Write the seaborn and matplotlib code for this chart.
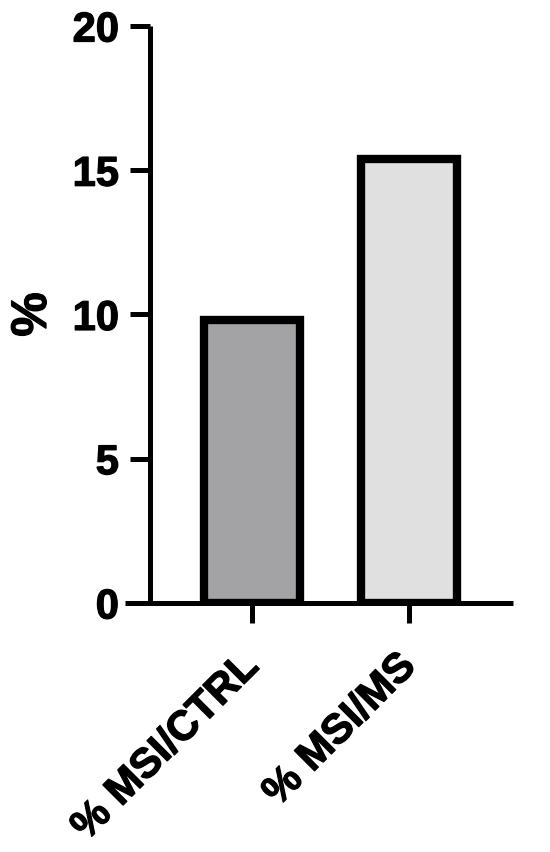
import matplotlib
matplotlib.use("Agg")
import matplotlib.pyplot as plt
import matplotlib.patheffects as pe
import seaborn as sns
import pandas as pd

groups = ["% MSI/CTRL", "% MSI/MS"]
values = [9.8, 15.4]
bar_colors = ["#a2a2a7", "#e0e0e0"]
y_ticks = [0, 5, 10, 15, 20]

sns.set_style("ticks")
plt.rcParams["font.family"] = ["Liberation Sans", "DejaVu Sans"]
plt.rcParams["font.weight"] = "bold"
plt.rcParams["text.color"] = "black"
plt.rcParams["axes.labelcolor"] = "black"
plt.rcParams["xtick.color"] = "black"
plt.rcParams["ytick.color"] = "black"
plt.rcParams["axes.edgecolor"] = "black"

df = pd.DataFrame({"group": groups, "value": values})

fig = plt.figure(figsize=(5.5, 8.52), dpi=100)
ax = fig.add_axes([0.227, 0.2923, 0.706, 0.6772])

sns.barplot(data=df, x="group", y="value", hue="group", palette=bar_colors,
            width=0.61, edgecolor="black", linewidth=6, legend=False, ax=ax)

ax.set_xlim(-0.81, 1.66)
ax.set_ylim(0, 20)
ax.set_yticks(y_ticks)

sns.despine(ax=ax)
ax.spines["left"].set_position(("data", -0.65))
for side in ["left", "bottom"]:
    ax.spines[side].set_linewidth(3.6)
    ax.spines[side].set_color("black")
    ax.spines[side].set_capstyle("butt")

# heavier strokes on text, like the original export
heavy = [pe.withStroke(linewidth=0.9, foreground="black")]

ax.tick_params(axis="both", length=14.4, width=3.6, direction="out", colors="black")
ax.tick_params(axis="y", labelsize=30, pad=8)
ax.tick_params(axis="x", labelsize=30, pad=27)
for lab in ax.get_yticklabels():
    lab.set_fontweight("bold")
    lab.set_path_effects(heavy)
for lab in ax.get_xticklabels():
    lab.set_fontweight("bold")
    lab.set_rotation(45)
    lab.set_ha("right")
    lab.set_va("center")
    lab.set_rotation_mode("anchor")
    lab.set_path_effects(heavy)

ax.set_xlabel("")
ax.set_ylabel("%", fontsize=36, fontweight="bold", labelpad=12, path_effects=heavy)

fig.savefig("out.png", dpi=100)
